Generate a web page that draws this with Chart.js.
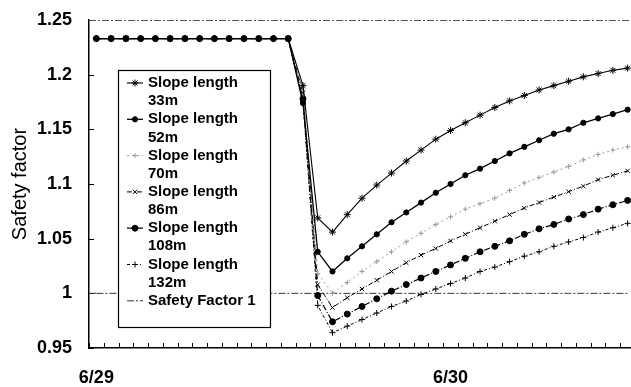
<!DOCTYPE html>
<html>
<head>
<meta charset="utf-8">
<script src="https://cdn.jsdelivr.net/npm/chart.js@4.4.1/dist/chart.umd.min.js"></script>
<style>
  html, body { margin: 0; padding: 0; background: #fff; overflow: hidden; }
  #wrap { width: 640px; height: 387px; }
</style>
</head>
<body>
<div id="wrap"><canvas id="chart" width="640" height="387"></canvas></div>
<script>
// hourly steps from 6/29 0:00 to 6/30 12:00
const hours = [0, 1, 2, 3, 4, 5, 6, 7, 8, 9, 10, 11, 12, 13, 14, 15, 16, 17, 18,
  19, 20, 21, 22, 23, 24, 25, 26, 27, 28, 29, 30, 31, 32, 33, 34, 35, 36];
const dayLabels = ['6/29', '6/30'];
const yTicks = [0.95, 1, 1.05, 1.1, 1.15, 1.2, 1.25];

const slope33 = [1.233, 1.233, 1.233, 1.233, 1.233, 1.233, 1.233, 1.233, 1.233, 1.233, 1.233, 1.233, 1.233, 1.233,
  1.190, 1.069, 1.056, 1.072, 1.087, 1.099, 1.110, 1.121, 1.131, 1.141, 1.149, 1.156, 1.163,
  1.170, 1.176, 1.181, 1.186, 1.190, 1.194, 1.198, 1.201, 1.204, 1.206];
const slope52 = [1.233, 1.233, 1.233, 1.233, 1.233, 1.233, 1.233, 1.233, 1.233, 1.233, 1.233, 1.233, 1.233, 1.233,
  1.174, 1.038, 1.020, 1.032, 1.043, 1.054, 1.065, 1.074, 1.083, 1.092, 1.100, 1.108, 1.114,
  1.121, 1.128, 1.134, 1.140, 1.146, 1.150, 1.156, 1.160, 1.164, 1.168];
const slope70 = [1.233, 1.233, 1.233, 1.233, 1.233, 1.233, 1.233, 1.233, 1.233, 1.233, 1.233, 1.233, 1.233, 1.233,
  1.186, 1.018, 1.000, 1.010, 1.020, 1.029, 1.038, 1.047, 1.055, 1.063, 1.070, 1.077, 1.082,
  1.087, 1.094, 1.101, 1.106, 1.111, 1.116, 1.122, 1.127, 1.131, 1.134];
const slope86 = [1.233, 1.233, 1.233, 1.233, 1.233, 1.233, 1.233, 1.233, 1.233, 1.233, 1.233, 1.233, 1.233, 1.233,
  1.183, 1.008, 0.987, 0.996, 1.004, 1.012, 1.020, 1.028, 1.035, 1.041, 1.048, 1.054, 1.060,
  1.066, 1.072, 1.078, 1.083, 1.088, 1.093, 1.098, 1.104, 1.108, 1.112];
const slope108 = [1.233, 1.233, 1.233, 1.233, 1.233, 1.233, 1.233, 1.233, 1.233, 1.233, 1.233, 1.233, 1.233, 1.233,
  1.178, 0.998, 0.974, 0.981, 0.988, 0.995, 1.002, 1.008, 1.014, 1.020, 1.026, 1.032, 1.038,
  1.043, 1.048, 1.054, 1.059, 1.063, 1.068, 1.072, 1.077, 1.081, 1.085];
const slope132 = [1.233, 1.233, 1.233, 1.233, 1.233, 1.233, 1.233, 1.233, 1.233, 1.233, 1.233, 1.233, 1.233, 1.233,
  1.176, 0.989, 0.964, 0.970, 0.976, 0.982, 0.988, 0.993, 0.999, 1.004, 1.009, 1.014, 1.020,
  1.024, 1.029, 1.034, 1.038, 1.043, 1.047, 1.051, 1.056, 1.060, 1.064];
const safetyOne = [1, 1, 1, 1, 1, 1, 1, 1, 1, 1, 1, 1, 1, 1, 1, 1, 1, 1, 1,
  1, 1, 1, 1, 1, 1, 1, 1, 1, 1, 1, 1, 1, 1, 1, 1, 1, 1];

const FONT = '"Liberation Sans", Arial, sans-serif';

function series(label, data, style) {
  return Object.assign({
    label: label,
    data: data,
    borderColor: '#000',
    backgroundColor: '#000',
    pointBorderColor: '#000',
    pointBackgroundColor: '#000',
    borderWidth: 1,
    pointBorderWidth: 1,
    pointRadius: 3,
    tension: 0
  }, style);
}

const datasets = [
  series('Slope length\n33m', slope33, { pointStyle: 'star', pointRadius: 3.5, borderWidth: 1.1 }),
  series('Slope length\n52m', slope52, { pointStyle: 'circle', pointRadius: 2.6, borderWidth: 1.3 }),
  series('Slope length\n70m', slope70, {
    pointStyle: 'cross', pointRadius: 2.5, borderColor: '#999', pointBorderColor: '#999',
    backgroundColor: '#999', borderDash: [2, 3], borderWidth: 1
  }),
  series('Slope length\n86m', slope86, { pointStyle: 'crossRot', pointRadius: 3, borderDash: [5, 2, 1, 2] }),
  series('Slope length\n108m', slope108, { pointStyle: 'circle', pointRadius: 3, borderDash: [6, 2, 1, 2], borderWidth: 1.2 }),
  series('Slope length\n132m', slope132, { pointStyle: 'cross', pointRadius: 3, borderDash: [3, 2, 1, 2] }),
  series('Safety Factor 1', safetyOne, {
    pointRadius: 0, pointStyle: false, borderColor: '#333', borderDash: [7, 2, 2, 2], borderWidth: 1
  })
];

// inward tick marks, dashed top frame line and the boxed legend
const framePlugin = {
  id: 'frame',
  beforeDatasetsDraw(chart) {
    const { ctx, chartArea: ca, scales: { x, y } } = chart;
    ctx.save();
    ctx.strokeStyle = '#000';
    ctx.lineWidth = 1;
    ctx.beginPath();
    y.ticks.forEach(t => {
      const py = Math.round(y.getPixelForValue(t.value)) + 0.5;
      ctx.moveTo(ca.left, py);
      ctx.lineTo(ca.left + 5, py);
    });
    const step = x.getPixelForValue(1) - x.getPixelForValue(0);
    for (let i = 0; i <= hours.length; i++) {
      const px = Math.round(x.getPixelForValue(i) - step / 2) + 0.5;
      ctx.moveTo(px, ca.bottom);
      ctx.lineTo(px, ca.bottom - 5);
    }
    ctx.stroke();
    const topY = Math.round(y.getPixelForValue(1.25)) + 0.5;
    ctx.strokeStyle = '#555';
    ctx.setLineDash([7, 2, 2, 2]);
    ctx.beginPath();
    ctx.moveTo(ca.left, topY);
    ctx.lineTo(ca.right, topY);
    ctx.stroke();
    // safety factor 1 runs from the left axis
    const oneY = y.getPixelForValue(1);
    ctx.strokeStyle = '#333';
    ctx.beginPath();
    ctx.moveTo(ca.left, oneY);
    ctx.lineTo(x.getPixelForValue(0), oneY);
    ctx.stroke();
    ctx.restore();
  },
  afterDatasetsDraw(chart) {
    const { ctx, chartArea: ca } = chart;
    const bx = ca.left + 29, by = ca.top + 50, bw = 152, bh = 257;
    ctx.save();
    ctx.fillStyle = '#fff';
    ctx.fillRect(bx, by, bw, bh);
    ctx.strokeStyle = '#000';
    ctx.lineWidth = 1.2;
    ctx.strokeRect(bx + 0.5, by + 0.5, bw, bh);
    ctx.font = 'bold 15px ' + FONT;
    ctx.textBaseline = 'middle';
    let ty = by + 13;
    chart.data.datasets.forEach(ds => {
      const lines = ds.label.split('\n');
      ctx.setLineDash(ds.borderDash || []);
      ctx.strokeStyle = ds.borderColor;
      ctx.lineWidth = ds.borderWidth;
      ctx.beginPath();
      ctx.moveTo(bx + 9, ty);
      ctx.lineTo(bx + 25, ty);
      ctx.stroke();
      ctx.setLineDash([]);
      if (ds.pointStyle) {
        ctx.fillStyle = ds.pointBackgroundColor;
        ctx.strokeStyle = ds.pointBorderColor;
        ctx.lineWidth = 1;
        Chart.helpers.drawPoint(ctx, {
          pointStyle: ds.pointStyle, radius: ds.pointRadius, rotation: 0, borderWidth: 1
        }, bx + 17, ty);
      }
      ctx.fillStyle = '#000';
      lines.forEach((t, i) => ctx.fillText(t, bx + 30, ty + i * 18.15));
      ty += lines.length * 18.15;
    });
    ctx.restore();
  }
};

new Chart(document.getElementById('chart'), {
  type: 'line',
  data: { labels: hours, datasets: datasets },
  options: {
    responsive: false,
    animation: false,
    layout: { padding: { top: 20, right: 0, left: 0, bottom: 0 } },
    plugins: { legend: { display: false }, tooltip: { enabled: false } },
    scales: {
      x: {
        type: 'category',
        offset: true,
        grid: { display: false, drawTicks: false },
        border: { display: true, color: '#000', width: 1.5 },
        ticks: {
          autoSkip: false,
          maxRotation: 0,
          padding: 19,
          color: '#000',
          font: { family: FONT, size: 18, weight: 'bold' },
          callback: (v, i) => (hours[i] % 24 === 0 ? dayLabels[hours[i] / 24] : '')
        },
        afterFit: s => { s.height = 39; s.paddingLeft = 0; s.paddingRight = 0; }
      },
      y: {
        min: 0.95,
        max: 1.25,
        afterBuildTicks: s => { s.ticks = yTicks.map(v => ({ value: v })); },
        grid: { display: false, drawTicks: false },
        border: { display: true, color: '#000', width: 1.5 },
        ticks: {
          padding: 17,
          color: '#000',
          font: { family: FONT, size: 18, weight: 'bold' },
          callback: v => String(+v.toFixed(2))
        },
        title: {
          display: true,
          text: 'Safety factor',
          color: '#000',
          padding: { top: 8, bottom: 0 },
          font: { family: FONT, size: 20 }
        },
        afterFit: s => { s.width = 89; s.paddingTop = 0; s.paddingBottom = 0; }
      }
    }
  },
  plugins: [framePlugin]
});
</script>
</body>
</html>
